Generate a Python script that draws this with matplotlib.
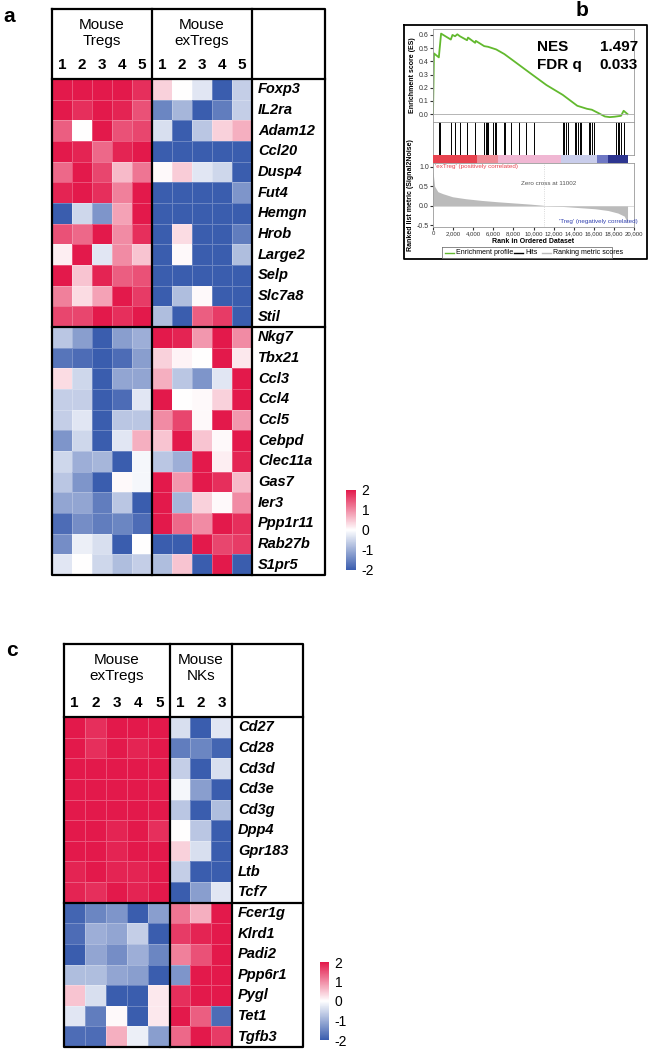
import numpy as np
import matplotlib
matplotlib.use('Agg')
import matplotlib.pyplot as plt
from matplotlib.colors import LinearSegmentedColormap, Normalize
from matplotlib.cm import ScalarMappable

plt.rcParams['font.family'] = ['Liberation Sans', 'DejaVu Sans']

# ---------------- DATA ----------------
genes_a = ["Foxp3", "IL2ra", "Adam12", "Ccl20", "Dusp4", "Fut4", "Hemgn", "Hrob",
           "Large2", "Selp", "Slc7a8", "Stil",
           "Nkg7", "Tbx21", "Ccl3", "Ccl4", "Ccl5", "Cebpd", "Clec11a", "Gas7",
           "Ier3", "Ppp1r11", "Rab27b", "S1pr5"]
tregs_a = [
    [2.0, 2.0, 2.0, 2.0, 1.8], [2.0, 1.8, 2.0, 1.9, 1.5], [1.4, 0.0, 2.0, 1.5, 1.6],
    [2.0, 1.9, 1.3, 1.9, 2.0], [1.3, 2.0, 1.6, 0.6, 1.2], [1.9, 2.0, 1.8, 1.1, 2.0],
    [-2.0, -0.5, -1.3, 0.8, 2.0], [1.5, 1.3, 2.0, 1.0, 1.8], [0.15, 2.0, -0.3, 1.0, 0.5],
    [2.0, 0.5, 1.9, 1.4, 1.5], [1.1, 0.3, 0.8, 2.0, 1.7], [1.6, 1.6, 2.0, 1.8, 2.0],
    [-0.7, -1.2, -2.0, -1.2, -1.0], [-1.7, -1.8, -2.0, -1.8, -1.2], [0.3, -0.5, -2.0, -1.1, -1.1],
    [-0.6, -0.6, -2.0, -1.8, -0.3], [-0.6, -0.3, -2.0, -0.7, -0.7], [-1.3, -0.5, -2.0, -0.3, 0.7],
    [-0.5, -1.0, -0.9, -2.0, -0.1], [-0.7, -1.3, -2.0, 0.05, -0.1], [-1.1, -1.1, -1.6, -0.7, -2.0],
    [-1.8, -1.4, -1.6, -1.5, -1.8], [-1.4, -0.2, -0.4, -2.0, 0.0], [-0.3, 0.0, -0.5, -0.8, -0.6]]
extregs_a = [
    [0.4, 0.0, -0.3, -2.0, -0.6], [-1.5, -0.9, -2.0, -1.6, -0.6], [-0.4, -2.0, -0.7, 0.4, 0.7],
    [-2.0, -2.0, -2.0, -2.0, -2.0], [0.05, 0.45, -0.3, -0.5, -2.0], [-2.0, -2.0, -2.0, -2.0, -1.3],
    [-2.0, -2.0, -2.0, -2.0, -2.0], [-2.0, 0.3, -2.0, -2.0, -1.6], [-2.0, 0.05, -2.0, -2.0, -0.8],
    [-2.0, -2.0, -2.0, -2.0, -2.0], [-2.0, -0.8, 0.05, -2.0, -2.0], [-0.8, -2.0, 1.4, 1.7, -2.0],
    [2.0, 1.9, 0.9, 2.0, 1.0], [0.4, 0.1, 0.0, 2.0, 0.2], [0.7, -0.7, -1.3, -0.3, 2.0],
    [2.0, 0.0, 0.05, 0.4, 2.0], [1.0, 1.6, 0.05, 2.0, 0.9], [0.5, 2.0, 0.5, 0.05, 2.0],
    [-0.7, -1.0, 2.0, 0.15, 1.9], [2.0, 0.9, 2.0, 1.8, 0.6], [2.0, -0.9, 0.4, 0.05, 1.0],
    [2.0, 1.3, 1.0, 2.0, 1.8], [-2.0, -2.0, 2.0, 1.6, 1.7], [-0.8, 0.5, -2.0, 2.0, -2.0]]

genes_c = ["Cd27", "Cd28", "Cd3d", "Cd3e", "Cd3g", "Dpp4", "Gpr183", "Ltb", "Tcf7",
           "Fcer1g", "Klrd1", "Padi2", "Ppp6r1", "Pygl", "Tet1", "Tgfb3"]
extregs_c = [
    [2.0, 1.8, 2.0, 2.0, 2.0], [2.0, 1.8, 2.0, 1.9, 2.0], [2.0, 2.0, 2.0, 2.0, 2.0],
    [2.0, 2.0, 2.0, 2.0, 2.0], [2.0, 2.0, 2.0, 2.0, 2.0], [2.0, 2.0, 1.9, 2.0, 1.8],
    [2.0, 2.0, 1.9, 2.0, 2.0], [1.9, 2.0, 1.9, 1.9, 2.0], [1.9, 1.8, 2.0, 1.9, 2.0],
    [-1.9, -1.5, -1.3, -2.0, -1.2], [-1.8, -1.0, -1.1, -0.6, -2.0], [-2.0, -1.1, -1.4, -1.0, -1.5],
    [-0.8, -0.8, -1.1, -1.2, -2.0], [0.5, -0.4, -2.0, -2.0, 0.2], [-0.3, -1.6, 0.05, -2.0, 0.2],
    [-1.8, -1.8, 0.7, -0.2, -1.2]]
nks_c = [
    [-0.4, -2.0, -0.3], [-1.6, -1.5, -1.9], [-0.6, -2.0, -0.4], [-0.1, -1.2, -2.0],
    [-0.7, -2.0, -0.8], [0.0, -0.7, -2.0], [0.4, -0.4, -2.0], [-0.6, -2.0, -2.0],
    [-2.0, -1.2, -0.3], [1.2, 0.7, 2.0], [1.7, 1.9, 2.0], [1.1, 1.5, 2.0],
    [-1.3, 2.0, 2.0], [1.8, 2.0, 2.0], [2.0, 1.4, -1.8], [1.3, 2.0, 1.7]]

cbar_ticks = [2, 1, 0, -1, -2]

# GSEA (panel b)
es_rank = [0, 97, 580, 806, 1774, 1935, 2194, 2419, 2677, 3387, 3484, 4194, 4258, 5097,
           5484, 6290, 7097, 7903, 9677, 11290, 12903, 14355, 15323, 15806, 16452, 17097,
           17581, 18065, 18710, 18968, 19355]
es_score = [0.0, 0.46, 0.43, 0.61, 0.565, 0.60, 0.59, 0.605, 0.59, 0.56, 0.58, 0.54, 0.555,
            0.515, 0.51, 0.49, 0.455, 0.41, 0.31, 0.22, 0.146, 0.063, 0.04, 0.033, 0.008,
            -0.018, -0.023, -0.02, -0.013, 0.025, 0.0]
hit_ranks = [580, 710, 1840, 2190, 2680, 3390, 4190, 5100, 5230, 5350, 5480, 5970, 6130,
             6260, 7030, 7160, 7810, 8550, 9260, 10060, 12900, 13060, 13230, 13390, 14100,
             14230, 14450, 14610, 14770, 15480, 15650, 15810, 16030, 18230, 18390, 18550,
             18710, 18970]
metric_rank = [0, 161, 484, 968, 1935, 3226, 4839, 6452, 8065, 9677, 10968, 11002, 12903,
               14516, 16129, 17419, 18387, 19032, 19290, 19355]
metric_val = [0.88, 0.5, 0.36, 0.31, 0.23, 0.18, 0.135, 0.10, 0.07, 0.04, 0.01, 0.0, -0.02,
              -0.05, -0.08, -0.125, -0.19, -0.27, -0.41, -0.46]
band_edges = [0, 4350, 6450, 12740, 16290, 17420, 19355]
band_colors = ["#E8434F", "#EE8C96", "#F0B7D3", "#C9CDEB", "#6F78C4", "#2D3590"]
nes_text = [("NES", "1.497"), ("FDR q", "0.033")]
zero_cross = 11002

# ---------------- FIGURE ----------------
W, H = 650, 1050
fig = plt.figure(figsize=(6.5, 10.5), dpi=100)

def ax_px(x0, y0, x1, y1, **kw):
    return fig.add_axes([x0 / W, 1 - y1 / H, (x1 - x0) / W, (y1 - y0) / H], **kw)

cmap = LinearSegmentedColormap.from_list("rwb", ["#3A5DAE", "#FFFFFF", "#E3194B"])
norm = Normalize(-2, 2)

def heat(x0, y0, x1, y1, mat):
    ax = ax_px(x0, y0, x1, y1)
    m = np.array(mat)
    ax.pcolormesh(m, cmap=cmap, norm=norm, edgecolors=(1, 1, 1, 0.25), linewidth=0.5)
    ax.set_xlim(0, m.shape[1]); ax.set_ylim(m.shape[0], 0)
    ax.axis('off')
    return ax

def cbar(x0, y0, x1, y1):
    cax = ax_px(x0, y0, x1, y1)
    cb = fig.colorbar(ScalarMappable(norm=norm, cmap=cmap), cax=cax, ticks=cbar_ticks)
    cb.outline.set_visible(False)
    cb.ax.tick_params(length=0, labelsize=10, pad=4)
    cb.ax.set_yticklabels([str(t) for t in cbar_ticks])

# ---- panel a ----
ax_l, ax_m, ax_r, ax_e = 52, 152, 252, 325
ay_t, ay_h, ay_b = 9, 79, 575
mat_a = np.hstack([np.array(tregs_a), np.array(extregs_a)])
heat(ax_l, ay_h, ax_r, ay_b, mat_a)
cbar(346, 490, 356, 570)

# ---- panel c ----
cx_l, cx_m, cx_r, cx_e = 64, 170, 232, 303
cy_t, cy_h, cy_b = 644, 717, 1047
mat_c = np.hstack([np.array(extregs_c), np.array(nks_c)])
heat(cx_l, cy_h, cx_r, cy_b, mat_c)
cbar(320, 962, 329, 1040)

# overlay canvas for table lines and text
cv = ax_px(0, 0, W, H)
cv.set_xlim(0, W); cv.set_ylim(H, 0); cv.axis('off'); cv.set_zorder(10)

lw = 1.6
def box_lines(xl, xm, xr, xe, yt, yh, yb, nrow_top, nrows):
    cv.plot([xl, xe, xe, xl, xl], [yt, yt, yb, yb, yt], color='black', lw=lw)
    for x in (xm, xr):
        cv.plot([x, x], [yt, yb], color='black', lw=lw)
    cv.plot([xl, xe], [yh, yh], color='black', lw=lw)
    ysep = yh + (yb - yh) * nrow_top / nrows
    cv.plot([xl, xe], [ysep, ysep], color='black', lw=lw)

box_lines(ax_l, ax_m, ax_r, ax_e, ay_t, ay_h, ay_b, 12, len(genes_a))
box_lines(cx_l, cx_m, cx_r, cx_e, cy_t, cy_h, cy_b, 9, len(genes_c))

def headers(xl, xm, xr, yt, yh, names, n1, n2):
    cv.text((xl + xm) / 2, yt + 24, names[0], ha='center', va='center', fontsize=11, linespacing=1.15)
    cv.text((xm + xr) / 2, yt + 24, names[1], ha='center', va='center', fontsize=11, linespacing=1.15)
    w1 = (xm - xl) / n1
    for i in range(n1):
        cv.text(xl + w1 * (i + 0.5), yh - 14, str(i + 1), ha='center', va='center', fontsize=11, fontweight='bold')
    w2 = (xr - xm) / n2
    for i in range(n2):
        cv.text(xm + w2 * (i + 0.5), yh - 14, str(i + 1), ha='center', va='center', fontsize=11, fontweight='bold')

headers(ax_l, ax_m, ax_r, ay_t, ay_h, ["Mouse\nTregs", "Mouse\nexTregs"], 5, 5)
headers(cx_l, cx_m, cx_r, cy_t, cy_h, ["Mouse\nexTregs", "Mouse\nNKs"], 5, 3)

def gene_labels(x, yh, yb, genes):
    rh = (yb - yh) / len(genes)
    for i, g in enumerate(genes):
        cv.text(x, yh + rh * (i + 0.5), g, ha='left', va='center', fontsize=10.5,
                fontweight='bold', fontstyle='italic')

gene_labels(ax_r + 6, ay_h, ay_b, genes_a)
gene_labels(cx_r + 6, cy_h, cy_b, genes_c)

cv.text(3, 16, "a", fontsize=15, fontweight='bold', va='center', ha='left')
cv.text(6, 650, "c", fontsize=15, fontweight='bold', va='center', ha='left')
cv.text(576, 11, "b", fontsize=15, fontweight='bold', va='center', ha='left')

# ---- panel b (GSEA) ----
bx0, by0, bx1, by1 = 404, 25, 647, 259
cv.plot([bx0, bx1, bx1, bx0, bx0], [by0, by0, by1, by1, by0], color='black', lw=1.3)
gx0, gx1 = 433, 634
xmax = 20000
fs = 5
spine_c = '#999999'

es_ax = ax_px(gx0, 29, gx1, 122)
es_ax.plot(es_rank, es_score, color='#62B92E', lw=1.3)
es_ax.axhline(0, color='#AAAAAA', lw=0.6)
es_ax.set_xlim(0, xmax); es_ax.set_ylim(-0.06, 0.645)
es_ax.set_yticks([0.0, 0.1, 0.2, 0.3, 0.4, 0.5, 0.6])
es_ax.set_yticklabels(["0.0", "0.1", "0.2", "0.3", "0.4", "0.5", "0.6"])
es_ax.set_xticks([])
es_ax.tick_params(labelsize=fs, length=2, pad=1, colors='#333333')
es_ax.set_ylabel("Enrichment score (ES)", fontsize=fs, fontweight='bold', labelpad=2)
for s in es_ax.spines.values():
    s.set_color(spine_c); s.set_linewidth(0.6)

# NES / FDR text in pixel coords
for j, (k, v) in enumerate(nes_text):
    cv.text(537, 47 + j * 18, k, fontsize=11, fontweight='bold', va='center', ha='left')
    cv.text(638, 47 + j * 18, v, fontsize=11, fontweight='bold', va='center', ha='right')

hit_ax = ax_px(gx0, 122, gx1, 155)
hit_ax.vlines(hit_ranks, 0, 1, color='black', lw=0.7)
hit_ax.set_xlim(0, xmax); hit_ax.set_ylim(0, 1)
hit_ax.set_xticks([]); hit_ax.set_yticks([])
for s in hit_ax.spines.values():
    s.set_color(spine_c); s.set_linewidth(0.6)

band_ax = ax_px(gx0, 155, gx1, 163)
for i, c in enumerate(band_colors):
    band_ax.axvspan(band_edges[i], band_edges[i + 1], color=c, lw=0)
band_ax.set_xlim(0, xmax); band_ax.set_ylim(0, 1)
band_ax.axis('off')

rk_ax = ax_px(gx0, 163, gx1, 227)
rk_ax.fill_between(metric_rank, metric_val, 0, color='#BBBBBB', lw=0)
rk_ax.axvline(zero_cross, color='#CCCCCC', lw=0.6, ls=':')
rk_ax.axhline(0, color='#CCCCCC', lw=0.5)
rk_ax.set_xlim(0, xmax); rk_ax.set_ylim(-0.55, 1.1)
rk_ax.set_yticks([-0.5, 0.0, 0.5, 1.0])
rk_ax.set_yticklabels(["-0.5", "0.0", "0.5", "1.0"])
xt = list(range(0, 20001, 2000))
rk_ax.set_xticks(xt)
rk_ax.set_xticklabels([f"{v:,}" for v in xt])
rk_ax.tick_params(labelsize=fs, length=2, pad=1, colors='#333333')
rk_ax.tick_params(axis='x', labelsize=4.3)
rk_ax.set_xlabel("Rank in Ordered Dataset", fontsize=fs, fontweight='bold', labelpad=1)
rk_ax.set_ylabel("Ranked list metric (Signal2Noise)", fontsize=fs, fontweight='bold', labelpad=2)
for s in rk_ax.spines.values():
    s.set_color(spine_c); s.set_linewidth(0.6)
rk_ax.text(200, 1.0, "'exTreg' (positively correlated)", color='#E8434F', fontsize=4.5, va='center')
rk_ax.text(11500, 0.58, "Zero cross at 11002", color='#555555', fontsize=4.5, va='center', ha='center')
rk_ax.text(16500, -0.42, "'Treg' (negatively correlated)", color='#3040B0', fontsize=4.5, va='center', ha='center')

# legend
lx0, ly0, lx1, ly1 = 442, 247, 612, 258
cv.plot([lx0, lx1, lx1, lx0, lx0], [ly0, ly0, ly1, ly1, ly0], color='#777777', lw=0.6)
items = [("Enrichment profile", '#62B92E', lx0 + 3), ("Hits", 'black', lx0 + 72),
         ("Ranking metric scores", '#BBBBBB', lx0 + 100)]
for lab, col, xx in items:
    cv.plot([xx, xx + 9], [(ly0 + ly1) / 2] * 2, color=col, lw=1.0)
    cv.text(xx + 11, (ly0 + ly1) / 2, lab, fontsize=5, va='center', ha='left')

fig.savefig("out.png", dpi=100)
